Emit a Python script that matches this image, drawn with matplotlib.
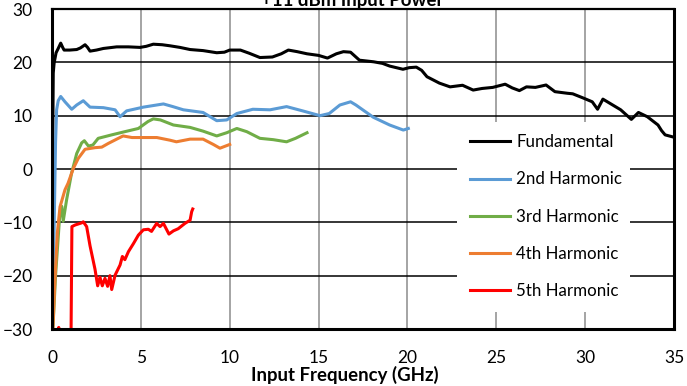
import matplotlib
matplotlib.use("Agg")
import matplotlib.pyplot as plt

plt.rcParams["font.family"] = ["Lato", "DejaVu Sans"]

# measured output power (dBm) vs input frequency (GHz)
fund_f = [0.0, 0.04, 0.07, 0.12, 0.23, 0.35, 0.49, 0.6, 0.68, 1.0, 1.39, 1.6, 1.86, 2.0, 2.14,
          2.5, 2.89, 3.64, 4.3, 4.95, 5.3, 5.7, 6.2, 6.64, 7.2, 7.77, 8.5, 9.27, 9.7, 10.0,
          10.6, 11.1, 11.7, 12.4, 12.9, 13.3, 13.8, 14.35, 15.0, 15.5, 16.0, 16.4, 16.8,
          17.3, 18.1, 18.6, 19.0, 19.75, 20.1, 20.5, 20.8, 21.1, 21.8, 22.4, 23.1, 23.7,
          24.2, 24.8, 25.5, 25.9, 26.3, 26.7, 27.2, 27.8, 28.3, 29.0, 29.3, 29.9, 30.4,
          30.7, 31.0, 31.4, 32.0, 32.6, 33.0, 33.5, 34.1, 34.3, 34.5, 34.95]
fund_db = [-30, 5, 18, 19.9, 21.8, 22.6, 23.6, 22.8, 22.3, 22.3, 22.4, 22.7, 23.3, 22.8, 22.1,
           22.3, 22.6, 22.9, 22.9, 22.8, 23.0, 23.4, 23.3, 23.1, 22.8, 22.4, 22.2, 21.8, 21.9,
           22.3, 22.3, 21.7, 20.9, 21.0, 21.6, 22.3, 22.0, 21.6, 21.3, 20.8, 21.6, 22.0, 21.9,
           20.4, 20.1, 19.8, 19.3, 18.7, 19.0, 19.1, 18.5, 17.3, 16.1, 15.4, 15.7, 14.8,
           15.1, 15.3, 15.9, 15.2, 14.7, 15.4, 15.3, 15.75, 14.5, 14.2, 14.1, 13.3, 12.6,
           11.2, 13.1, 12.3, 11.1, 9.3, 10.6, 9.8, 8.25, 7.2, 6.4, 6.0]

h2_f = [0.02, 0.1, 0.15, 0.2, 0.26, 0.35, 0.49, 0.73, 1.11, 1.39, 1.76, 2.14, 2.89, 3.55, 3.83,
        4.2, 5.14, 6.27, 6.8, 7.39, 8.5, 9.27, 9.83, 10.4, 11.3, 12.27, 13.2, 14.1, 15.08,
        15.6, 16.2, 16.8, 17.1, 18.08, 19.0, 19.77, 20.05]
h2_db = [-30, -15, -5, 5, 11.1, 12.8, 13.6, 12.6, 11.2, 12.0, 12.8, 11.6, 11.5, 11.1, 9.8,
         10.9, 11.6, 12.2, 11.7, 11.1, 10.6, 9.06, 9.2, 10.4, 11.2, 11.1, 11.7, 10.9, 10.0,
         10.4, 12.0, 12.6, 12.0, 9.7, 8.25, 7.3, 7.6]

h3_f = [0.05, 0.2, 0.45, 0.55, 0.63, 0.82, 1.1, 1.39, 1.67, 1.82, 2.05, 2.3, 2.6, 3.36, 4.1,
        4.86, 5.4, 5.7, 6.1, 6.83, 7.77, 8.5, 9.27, 9.83, 10.4, 10.96, 11.7, 12.45, 13.2,
        13.7, 14.35]
h3_db = [-30, -20, -8, -7, -9.8, -5.8, -0.8, 2.9, 4.9, 5.3, 4.3, 4.5, 5.75, 6.4, 7.0,
         7.6, 8.9, 9.4, 9.2, 8.25, 7.8, 7.1, 6.2, 6.8, 7.6, 7.0, 5.75, 5.5, 5.1,
         5.75, 6.8]

h4_f = [0.05, 0.15, 0.3, 0.45, 0.73, 0.9, 1.2, 1.48, 1.86, 2.42, 2.8, 3.17, 3.73, 4.0, 4.5,
        5.3, 5.9, 6.64, 7.0, 7.77, 8.5, 9.08, 9.45, 10.0]
h4_db = [-30, -22, -12, -7.1, -3.9, -2.7, 0.1, 2.0, 3.7, 4.0, 4.1, 4.8, 5.75, 6.2, 5.9,
         5.9, 5.9, 5.4, 5.1, 5.6, 5.6, 4.6, 3.9, 4.6]

h5_f = [0.3, 0.38, 0.46, 0.7, 1.05, 1.12, 1.3, 1.67, 1.76, 1.95, 2.14, 2.42, 2.57, 2.7, 2.83,
        2.98, 3.13, 3.26, 3.36, 3.55, 3.83, 3.96, 4.1, 4.3, 4.58, 4.86, 5.14, 5.42, 5.6,
        5.89, 6.08, 6.27, 6.58, 6.83, 7.1, 7.48, 7.77, 7.86, 7.92]
h5_db = [-32, -29.7, -32, -40, -40, -10.8, -10.5, -10.1, -9.9, -10.8, -14.4, -18.8, -21.9,
         -20.3, -21.9, -20.5, -22.0, -20.0, -22.6, -19.9, -18.0, -16.4, -17.0, -15.5, -14.0,
         -12.4, -11.4, -11.3, -11.7, -10.2, -10.8, -10.2, -12.2, -11.6, -11.2, -10.2, -9.6,
         -8.0, -7.5]

series = [
    ("Fundamental", fund_f, fund_db, "black"),
    ("2nd Harmonic", h2_f, h2_db, "#5B9BD5"),
    ("3rd Harmonic", h3_f, h3_db, "#70AD47"),
    ("4th Harmonic", h4_f, h4_db, "#ED7D31"),
    ("5th Harmonic", h5_f, h5_db, "#FF0000"),
]

fig = plt.figure(figsize=(6.87, 3.86), dpi=100)
ax = fig.add_axes([52 / 687, 1 - 329 / 386, 622 / 687, 320 / 386])

for name, f, db, color in series:
    ax.plot(f, db, color=color, lw=2.2, label=name, solid_joinstyle="round")

ax.set_xlim(0, 35)
ax.set_ylim(-30, 30)
ax.set_xticks(range(0, 36, 5))
ax.set_yticks(range(-30, 31, 10))

# gray vertical grid, black horizontal grid
for x in range(5, 35, 5):
    ax.axvline(x, color="#8c8c8c", lw=1.1, zorder=0)
for y in range(-20, 30, 10):
    ax.axhline(y, color="black", lw=1.1, zorder=0)

for side in ["left", "bottom", "right"]:
    ax.spines[side].set_linewidth(2.2)
ax.spines["top"].set_linewidth(1.6)
ax.tick_params(length=0, labelsize=12.5)
ax.tick_params(axis="x", pad=15)
ax.tick_params(axis="y", pad=14)

fig.text(345 / 687, 1 - 381 / 386, "Input Frequency (GHz)", ha="center", va="baseline",
         fontsize=13.4, fontweight="bold")
fig.text(352 / 687, 1 - 6 / 386, "+11 dBm Input Power", ha="center", va="baseline",
         fontsize=13.4, fontweight="bold")

leg = ax.legend(loc="lower left", bbox_to_anchor=(0.651, 0.054, 0.278, 0.581), mode="expand",
                frameon=True, fancybox=False, edgecolor="none", facecolor="white", framealpha=1,
                fontsize=12.2, handlelength=2.4, handletextpad=0.35, labelspacing=1.25,
                borderaxespad=0, borderpad=0.75)
leg.get_frame().set_linewidth(0)

fig.savefig("out.png", dpi=100)
